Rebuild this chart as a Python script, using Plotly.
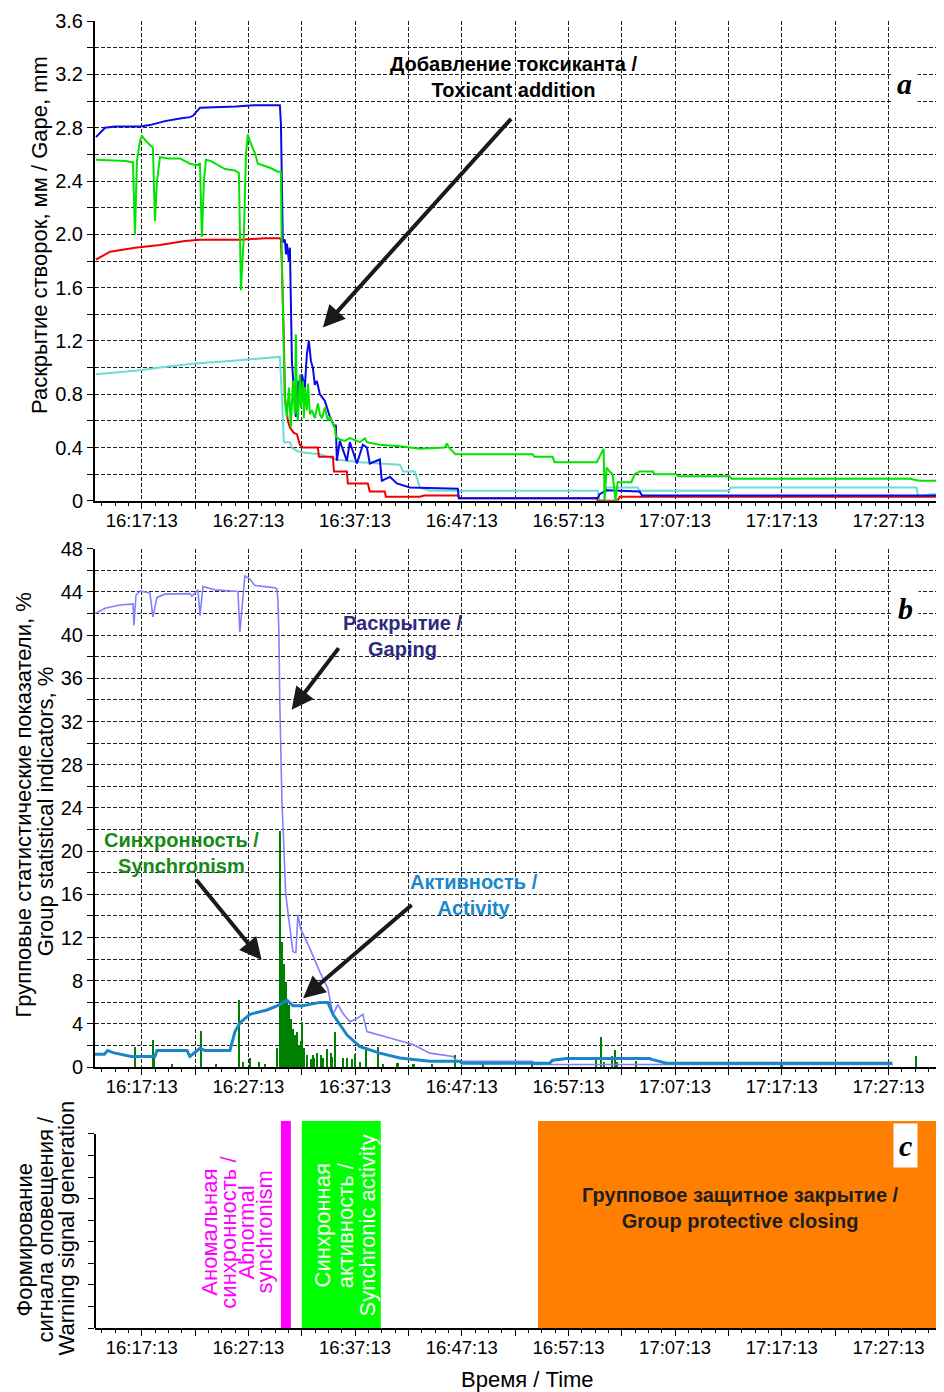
import pandas as pd
import plotly.graph_objects as go

BASE = pd.Timestamp("2024-05-14 16:17:13")


def T(m):
    return (BASE + pd.to_timedelta(m, unit="min")).to_pydatetime()


# ---------------- data (time = minutes after 16:17:13) ----------------
# Panel a: valve gape, mm (four mussels)
gape_blue = [(-4.29,2.73),(-3.44,2.80),(-2.5,2.81),(-0.16,2.81),(0.77,2.82),(2.18,2.85),(3.58,2.87),(4.52,2.88),(4.80,2.89),(5.46,2.95),(8.83,2.96),(10.5,2.97),(12.86,2.97),(12.95,2.97),(13.05,2.83),(13.14,2.46),(13.23,1.94),(13.42,1.96),(13.52,1.85),(13.61,1.93),(13.80,1.80),(13.89,1.90),(13.98,1.37),(14.08,1.05),(14.26,0.82),(14.45,0.63),(14.64,0.90),(14.83,0.75),(15.01,0.95),(15.29,0.85),(15.48,1.10),(15.67,1.20),(15.86,1.05),(16.04,1.00),(16.23,0.87),(16.42,0.90),(16.70,0.80),(17.17,0.75),(17.64,0.63),(18.11,0.55),(18.20,0.57),(18.29,0.30),(18.57,0.45),(19.23,0.30),(19.51,0.44),(20.17,0.28),(20.73,0.42),(21.11,0.40),(21.38,0.28),(22.32,0.31),(22.51,0.15),(23.26,0.18),(23.92,0.13),(25.14,0.10),(29.63,0.09),(29.72,0.02),(42.74,0.02),(42.93,0.05),(43.58,0.08),(46.67,0.07),(46.9,0.04),(74.9,0.04)]
gape_green = [(-4.29,2.56),(-1.5,2.55),(-0.82,2.54),(-0.63,2.00),(-0.45,2.55),(-0.16,2.70),(0.02,2.74),(0.40,2.70),(1.05,2.65),(1.24,2.10),(1.43,2.40),(1.71,2.58),(2.50,2.57),(3.58,2.57),(4.52,2.53),(5.08,2.52),(5.46,2.53),(5.64,1.98),(5.83,2.40),(6.02,2.56),(6.50,2.55),(7.80,2.49),(8.74,2.48),(9.11,2.46),(9.30,1.58),(9.58,2.00),(9.77,2.60),(9.95,2.75),(10.14,2.70),(10.61,2.61),(10.89,2.53),(12.02,2.50),(12.77,2.47),(13.05,2.47),(13.14,1.79),(13.23,1.37),(13.33,1.00),(13.42,0.75),(13.61,0.63),(13.80,0.85),(13.98,0.55),(14.17,0.90),(14.36,0.65),(14.45,1.25),(14.55,0.70),(14.64,0.60),(14.83,0.95),(14.92,0.70),(15.11,0.90),(15.20,0.62),(15.29,0.85),(15.48,0.68),(15.58,0.88),(15.76,0.65),(15.95,0.68),(16.23,0.62),(16.51,0.73),(16.70,0.65),(16.89,0.62),(17.17,0.70),(17.45,0.60),(17.64,0.63),(17.92,0.58),(18.11,0.55),(18.20,0.48),(18.57,0.46),(19.04,0.45),(19.51,0.47),(20.45,0.44),(20.92,0.47),(21.11,0.44),(22.32,0.42),(24.20,0.41),(26.07,0.39),(28.41,0.40),(28.60,0.43),(28.80,0.40),(29.40,0.35),(36.65,0.35),(36.80,0.33),(38.52,0.33),(38.70,0.29),(42.65,0.29),(42.90,0.33),(43.30,0.39),(43.39,0.00),(43.58,0.25),(43.86,0.22),(44.14,0.20),(44.42,0.00),(44.61,0.14),(45.90,0.14),(46.21,0.20),(46.67,0.22),(47.90,0.22),(48.10,0.20),(50.10,0.20),(50.30,0.185),(55.11,0.185),(55.30,0.165),(72.00,0.165),(72.90,0.15),(74.90,0.15)]
gape_red = [(-4.29,1.81),(-2.97,1.87),(-0.63,1.90),(1.71,1.92),(4.05,1.95),(5.46,1.96),(9.20,1.96),(11.55,1.97),(12.95,1.97),(13.05,1.96),(13.14,1.76),(13.23,1.55),(13.33,1.20),(13.42,0.78),(13.70,0.60),(13.89,0.55),(14.26,0.51),(14.55,0.50),(14.83,0.42),(15.11,0.40),(16.51,0.40),(16.61,0.33),(17.92,0.33),(18.02,0.22),(19.23,0.22),(19.32,0.13),(21.20,0.13),(21.38,0.07),(22.79,0.07),(22.88,0.03),(26.07,0.03),(26.50,0.04),(29.63,0.04),(29.82,0.02),(42.65,0.02),(42.74,0.00),(44.61,0.00),(44.80,0.03),(74.90,0.03)]
gape_cyan = [(-4.29,0.95),(-0.16,0.98),(1.71,1.00),(4.99,1.03),(8.27,1.05),(11.08,1.07),(12.77,1.08),(12.95,1.08),(13.14,0.78),(13.33,0.44),(13.89,0.44),(14.08,0.40),(14.64,0.37),(15.29,0.36),(16.70,0.35),(18.20,0.31),(20.45,0.29),(22.32,0.28),(24.20,0.27),(24.50,0.22),(25.60,0.22),(26.07,0.10),(27.00,0.075),(42.74,0.075),(42.93,0.00),(43.30,0.00),(43.58,0.10),(46.50,0.10),(46.67,0.075),(55.11,0.075),(55.20,0.10),(72.62,0.10),(72.80,0.03),(74.00,0.05),(74.90,0.05)]

# Panel b: group statistical indicators, %
gaping = [(-4.38,42.0),(-3.44,42.5),(-2.04,42.8),(-0.82,42.9),(-0.73,40.9),(-0.54,43.7),(-0.16,44.1),(0.77,43.9),(1.05,41.7),(1.43,43.5),(2.18,43.8),(4.52,43.85),(4.71,43.6),(5.27,44.2),(5.46,41.8),(5.74,44.5),(6.86,44.2),(9.02,44.05),(9.20,40.3),(9.49,44.0),(9.67,45.5),(10.14,45.2),(10.61,44.6),(11.55,44.5),(12.48,44.4),(12.67,44.3),(12.77,43.2),(12.86,40.2),(12.95,33.4),(13.14,24.8),(13.33,20.2),(13.50,16.0),(13.70,14.4),(14.00,12.0),(14.17,10.7),(14.45,10.6),(14.64,14.1),(14.90,12.8),(15.76,11.0),(16.70,8.8),(17.45,7.3),(17.92,4.9),(18.39,5.8),(18.85,5.0),(19.51,4.2),(20.17,4.5),(20.73,4.9),(21.11,3.3),(22.32,3.0),(23.26,2.7),(25.42,2.1),(26.07,1.75),(27.01,1.3),(29.16,1.0),(29.54,0.55),(36.65,0.55),(36.80,0.25),(70.38,0.25)]
activity = [(-4.38,1.2),(-3.50,1.2),(-3.20,1.55),(-2.69,1.35),(-1.00,1.0),(1.24,1.0),(1.43,1.55),(4.24,1.55),(4.52,1.0),(5.46,1.75),(5.92,1.55),(8.27,1.55),(8.74,3.3),(9.20,4.1),(10.14,4.9),(11.73,5.3),(12.95,5.8),(13.61,6.2),(14.17,5.7),(15.11,5.7),(16.70,6.0),(17.45,6.0),(17.92,4.9),(19.23,3.0),(20.45,1.9),(22.32,1.3),(24.20,0.86),(27.01,0.55),(29.82,0.55),(30.00,0.37),(38.24,0.37),(38.52,0.64),(39.84,0.8),(47.61,0.8),(47.89,0.7),(49.20,0.37),(70.38,0.37)]
synchronism = [(-0.63,1.9),(1.05,2.6),(1.20,1.0),(2.9,0.3),(5.55,3.4),(7.0,0.3),(9.11,6.3),(9.49,0.55),(10.14,0.9),(11.0,0.5),(11.6,0.3),(12.67,1.8),(12.95,21.9),(13.05,2.5),(13.14,11.6),(13.23,8.0),(13.33,9.6),(13.42,6.5),(13.52,7.9),(13.61,6.1),(13.70,4.0),(13.80,5.8),(13.89,3.0),(13.98,4.5),(14.08,2.5),(14.17,3.6),(14.26,2.0),(14.36,3.0),(14.45,1.5),(14.55,3.3),(14.64,1.2),(14.73,2.1),(14.92,2.5),(15.01,4.2),(15.20,1.8),(15.48,1.2),(15.9,0.8),(16.04,1.2),(16.2,0.9),(16.42,1.4),(16.79,1.2),(17.0,0.9),(17.35,1.7),(17.73,1.4),(17.9,1.0),(18.11,3.3),(18.85,0.9),(19.23,0.9),(19.70,0.8),(19.98,1.3),(20.5,0.5),(21.01,1.9),(22.13,1.9),(22.6,0.3),(24.0,0.4),(25.5,0.3),(27.2,0.3),(29.42,1.2),(32.0,0.3),(36.65,0.5),(42.65,0.8),(43.11,2.8),(43.39,0.5),(44.14,1.1),(44.42,1.6),(44.61,0.5),(46.39,0.6),(60.0,0.2),(72.62,1.1)]

# Panel c: warning signals (start, end in minutes)
warn_start = [13.05, 15.01, 37.15]
warn_end = [13.98, 22.41, 75.2]
warn_level = 1.067
warn_colors = ["#ff00ff", "#00ff00", "#ff8000"]

# Axes
x_min, x_max = -4.38, 75.02
x_tick_minutes = list(range(0, 80, 5))
y_a_ticks = [round(0.2 * i, 1) for i in range(19)]
y_b_ticks = list(range(0, 50, 2))
y_c_ticks = [i / 9 for i in range(10)]

FONT = "Liberation Sans, Arial, sans-serif"
GRID = "#222222"

# page offset of the figure (default body margin) and page geometry of plot area
OFF = 8
PL, PR, PT, PB = 95, 942, 15, 1328


def xy(series):
    return [T(t) for t, _ in series], [v for _, v in series]


fig = go.Figure()

for series, color, w in [(gape_cyan, "#6edcd2", 2), (gape_red, "#f00000", 2),
                         (gape_blue, "#0a0ae6", 2), (gape_green, "#00e400", 2)]:
    xs, ys = xy(series)
    fig.add_trace(go.Scatter(x=xs, y=ys, mode="lines", line=dict(color=color, width=w),
                             xaxis="x", yaxis="y", hoverinfo="skip"))

xs, ys = xy(gaping)
fig.add_trace(go.Scatter(x=xs, y=ys, mode="lines", line=dict(color="#8080ff", width=1.6),
                         xaxis="x2", yaxis="y2", hoverinfo="skip"))
xs, ys = xy(activity)
fig.add_trace(go.Scatter(x=xs, y=ys, mode="lines", line=dict(color="#1a86c8", width=3),
                         xaxis="x2", yaxis="y2", hoverinfo="skip"))
xs, ys = xy(synchronism)
fig.add_trace(go.Bar(x=xs, y=ys, width=9000, marker=dict(color="#008000", line=dict(width=0)),
                     xaxis="x2", yaxis="y2", hoverinfo="skip"))

for s, e, c in zip(warn_start, warn_end, warn_colors):
    fig.add_trace(go.Scatter(x=[T(s), T(s), T(e), T(e), T(s)],
                             y=[0, warn_level, warn_level, 0, 0],
                             mode="lines", fill="toself", fillcolor=c,
                             line=dict(width=0, color=c),
                             xaxis="x3", yaxis="y3", hoverinfo="skip"))

xt_vals = [T(m) for m in x_tick_minutes]
xt_text = [T(m).strftime("%H:%M:%S") if i % 2 == 0 else "" for i, m in enumerate(x_tick_minutes)]


def xaxis(anchor, grid=True):
    return dict(type="date", anchor=anchor, domain=[0, 1], range=[T(x_min), T(x_max)],
                tickmode="array", tickvals=xt_vals, ticktext=xt_text,
                ticks="outside", ticklen=6, tickwidth=1, tickcolor="black",
                ticklabelstandoff=-4,
                showline=True, linecolor="black", linewidth=2,
                showgrid=grid, gridcolor=GRID, gridwidth=1, griddash="4px,2px",
                zeroline=False, tickfont=dict(family=FONT, size=18.5, color="black"),
                minor=dict(tickmode="linear", tick0=T(0), dtick=75000, ticks="outside",
                           ticklen=3, tickcolor="black", showgrid=False))


ya_text = [(("%.1f" % v) if v != 0 else "0") if i % 2 == 0 else "" for i, v in enumerate(y_a_ticks)]
yb_text = [str(v) if v % 4 == 0 else "" for v in y_b_ticks]

ycommon = dict(ticks="outside", ticklen=6, tickwidth=1, tickcolor="black",
               showline=True, linecolor="black", linewidth=2,
               gridcolor=GRID, gridwidth=1, griddash="4px,2px", zeroline=False,
               tickfont=dict(family=FONT, size=20, color="black"))


def pdom(top_px, bot_px):
    return [(PB - bot_px) / (PB - PT), (PB - top_px) / (PB - PT)]


W, H = 944 - OFF, 1392 - OFF
layout = dict(
    width=W, height=H,
    margin=dict(l=PL - OFF, r=944 - PR, t=PT - OFF, b=1392 - PB),
    paper_bgcolor="white", plot_bgcolor="white", showlegend=False,
    font=dict(family=FONT, color="black"),
    xaxis=xaxis("y"), xaxis2=xaxis("y2"), xaxis3=xaxis("y3", grid=False),
    yaxis=dict(ycommon, anchor="x", domain=[pdom(15, 497)[0], 1], range=[0, 3.6015],
               tickmode="array", tickvals=y_a_ticks, ticktext=ya_text, showgrid=True),
    yaxis2=dict(ycommon, anchor="x2", domain=pdom(545, 1066), range=[0, 48.02],
                tickmode="array", tickvals=y_b_ticks, ticktext=yb_text, showgrid=True),
    yaxis3=dict(ycommon, anchor="x3", domain=[0, pdom(1120, 1328)[1]], range=[0, warn_level],
                tickmode="array", tickvals=y_c_ticks, showticklabels=False,
                showgrid=False, showline=False),
    bargap=0,
)
fig.update_layout(**layout)

fig.add_shape(type="line", xref="x3 domain", x0=0, x1=0, yref="y3", y0=0, y1=1,
              line=dict(color="black", width=2))

ann = []


def label(x, y, text, color, xr, yr, size=20, bold=True):
    ann.append(dict(x=x, y=y, xref=xr, yref=yr, text=text, showarrow=False,
                    font=dict(family=FONT, size=size, color=color,
                              weight="bold" if bold else "normal"),
                    xanchor="center", yanchor="middle", align="center"))


def arrow(x, y, ax, ay, xr, yr):
    ann.append(dict(x=x, y=y, ax=ax, ay=ay, xref=xr, yref=yr, axref=xr, ayref=yr,
                    text="", showarrow=True, arrowhead=2, arrowsize=1.1, arrowwidth=4,
                    arrowcolor="#1a1a1a", standoff=0))


# Panel a
label(T(34.87), 3.182, "Добавление токсиканта /<br>Toxicant addition", "#000000", "x", "y")
arrow(T(16.98), 1.300, T(34.75), 2.878, "x", "y")
# Panel b
label(T(24.48), 39.94, "Раскрытие /<br>Gaping", "#2e2a7e", "x2", "y2")
arrow(T(14.05), 33.10, T(18.57), 38.94, "x2", "y2")
label(T(3.69), 19.85, "Синхронность /<br>Synchronism", "#168a16", "x2", "y2")
arrow(T(11.24), 9.92, T(4.99), 17.50, "x2", "y2")
label(T(31.14), 15.98, "Активность /<br>Activity", "#1a88cc", "x2", "y2")
arrow(T(15.13), 6.38, T(25.44), 15.14, "x2", "y2")
# Panel c
label(T(56.14), 0.618, "Групповое защитное закрытие /<br>Group protective closing", "#1e1e1e", "x3", "y3")

for m, txt in zip([6.32, 8.10, 9.78, 11.47],
                  ["Аномальная", "синхронность /", "Abnormal", "synchronism"]):
    ann.append(dict(x=T(m), y=0.492, xref="x3", yref="y3", text=txt, textangle=-90,
                    showarrow=False, font=dict(family=FONT, size=22, color="#ff00ff")))
for m, txt in zip([16.98, 19.13, 21.20],
                  ["Синхронная", "активность /", "Synchronic activity"]):
    ann.append(dict(x=T(m), y=0.528, xref="x3", yref="y3", text=txt, textangle=-90,
                    showarrow=False, font=dict(family=FONT, size=22, color="white")))

# panel letters
for x, y, xr, yr, t in [(T(71.50), 3.13, "x", "y", "a"), (T(71.59), 42.47, "x2", "y2", "b"),
                        (T(71.59), 0.938, "x3", "y3", "c")]:
    ann.append(dict(x=x, y=y, xref=xr, yref=yr, text=t, showarrow=False, bgcolor="white",
                    borderpad=5,
                    font=dict(family="Liberation Serif, Times New Roman, serif", size=30,
                              color="black", weight="bold", style="italic")))


# axis titles (positions given in page pixels)
def px_x(px):
    return (px - PL) / (PR - PL)


def px_y(py):
    return (PB - py) / (PB - PT)


def ytitle(px, py, text):
    ann.append(dict(x=px_x(px), y=px_y(py), xref="paper", yref="paper", text=text,
                    textangle=-90, showarrow=False, xanchor="center", yanchor="middle",
                    font=dict(family=FONT, size=22, color="black")))


ytitle(39, 230, "Раскрытие створок, мм / Gape, mm")
ytitle(23, 803, "Групповые статистические показатели, %")
ytitle(45, 809, "Group statistical indicators, %")
ytitle(24, 1240, "Формирование")
ytitle(45, 1229, "сигнала оповещения /")
ytitle(66, 1228, "Warning signal generation")
ann.append(dict(x=px_x(527), y=px_y(1380), xref="paper", yref="paper", text="Время / Time",
                showarrow=False, xanchor="center", yanchor="middle",
                font=dict(family=FONT, size=22, color="black")))

fig.update_layout(annotations=ann)
fig.write_html("out.html")
